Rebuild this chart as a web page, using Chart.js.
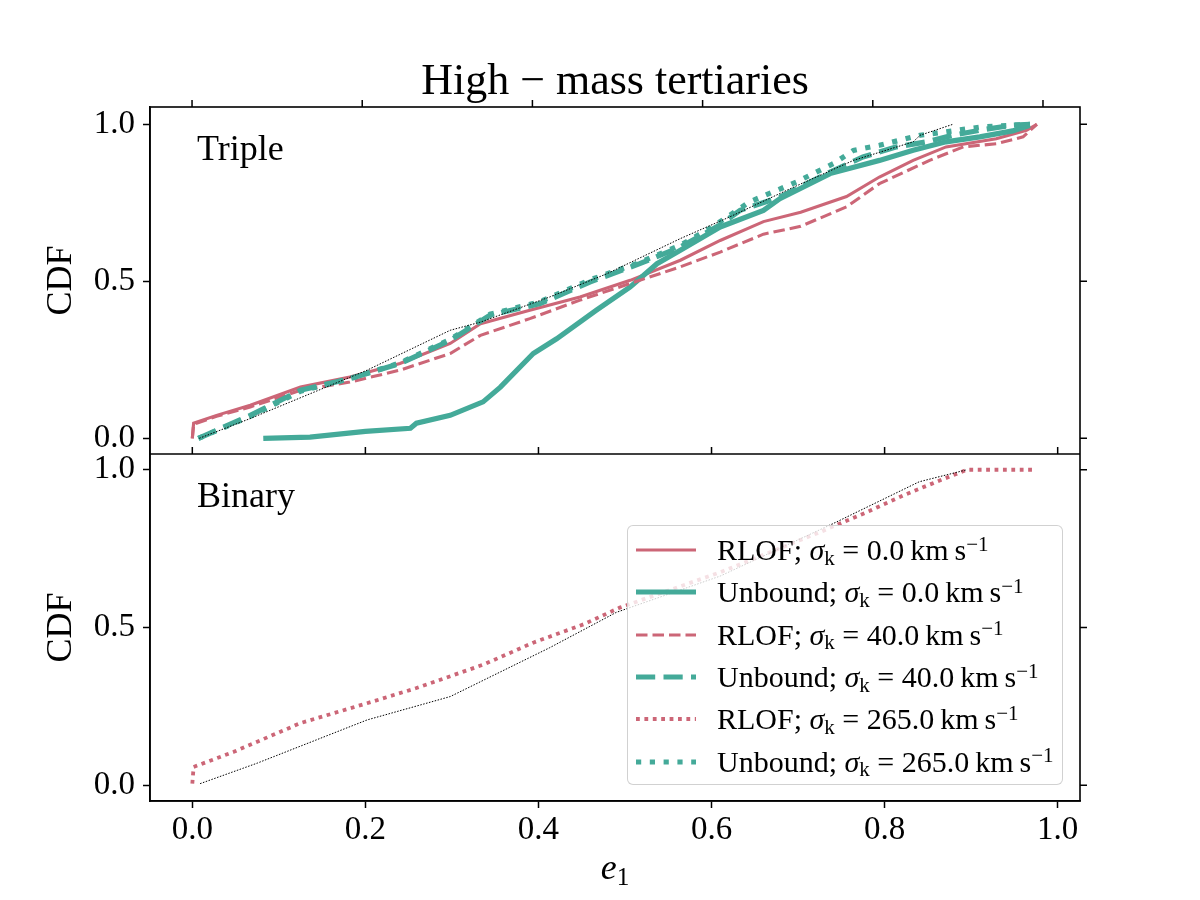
<!DOCTYPE html>
<html lang="en">
<head>
    <meta charset="UTF-8">
    <title>High-mass tertiaries CDF</title>
    <script src="https://cdn.jsdelivr.net/npm/chart.js"></script>
    <style>
        body {
            margin: 0;
            background: #ffffff;
            font-family: 'Liberation Serif', serif;
        }
        #wrap {
            position: relative;
            width: 1200px;
            height: 900px;
        }
        #chart {
            position: absolute;
            left: 0;
            top: 0;
        }
        .txt {
            position: absolute;
            line-height: 1;
            white-space: nowrap;
            color: #000;
        }
        #title {
            left: 150px;
            width: 930px;
            top: 58px;
            font-size: 44px;
            text-align: center;
        }
        #xlabel {
            left: 150px;
            width: 930px;
            top: 849px;
            font-size: 36px;
            text-align: center;
        }
        .panel-label {
            left: 197px;
            font-size: 36px;
        }
        #legend {
            position: absolute;
            left: 627px;
            top: 525px;
            width: 436px;
            height: 260px;
            border: 1.5px solid rgba(204, 204, 204, 0.9);
            border-radius: 6px;
            background: rgba(255, 255, 255, 0.8);
            padding-top: 3px;
            box-sizing: border-box;
        }
        .row {
            display: flex;
            align-items: center;
            height: 42.3px;
            font-size: 30px;
            white-space: nowrap;
        }
        .row svg {
            margin-left: 8px;
            width: 60px;
            height: 12px;
        }
        .row span.t {
            margin-left: 21px;
            line-height: 1;
        }
        .sub {
            font-size: 0.7em;
            position: relative;
            top: 0.22em;
        }
        .sup {
            font-size: 0.7em;
            position: relative;
            top: -0.45em;
        }
    </style>
</head>
<body>
<div id="wrap">
    <canvas id="chart" width="1200" height="900"></canvas>
    <div id="title" class="txt">High − mass tertiaries</div>
    <div class="txt panel-label" style="top:130px">Triple</div>
    <div class="txt panel-label" style="top:477px">Binary</div>
    <div id="xlabel" class="txt"><i>e</i><span class="sub">1</span></div>
    <div id="legend"></div>
</div>
<script>
    // ---- data (x = e1, y = CDF) ----
    // Triple panel
    const tripleRlof0X = [0, 0.0015, 0.028, 0.067, 0.125, 0.182, 0.24, 0.298, 0.333, 0.39, 0.448, 0.506, 0.564, 0.61, 0.66, 0.703, 0.756, 0.794, 0.833, 0.871, 0.929, 0.964, 0.976];
    const tripleRlof0Y = [0, 0.048, 0.073, 0.105, 0.163, 0.195, 0.238, 0.302, 0.365, 0.408, 0.45, 0.503, 0.567, 0.63, 0.69, 0.72, 0.77, 0.832, 0.885, 0.928, 0.954, 0.981, 1.0];

    const tripleRlof40X = [0, 0.0015, 0.028, 0.067, 0.125, 0.182, 0.24, 0.298, 0.333, 0.39, 0.448, 0.506, 0.564, 0.61, 0.66, 0.703, 0.756, 0.794, 0.852, 0.891, 0.929, 0.96, 0.976];
    const tripleRlof40Y = [0, 0.045, 0.07, 0.1, 0.153, 0.179, 0.217, 0.27, 0.328, 0.381, 0.44, 0.493, 0.546, 0.593, 0.65, 0.675, 0.737, 0.811, 0.885, 0.928, 0.938, 0.96, 1.0];

    const tripleUnb0X = [0.082, 0.136, 0.2, 0.252, 0.259, 0.298, 0.336, 0.356, 0.394, 0.421, 0.467, 0.506, 0.537, 0.564, 0.61, 0.66, 0.679, 0.737, 0.794, 0.833, 0.871, 0.91, 0.948, 0.968];
    const tripleUnb0Y = [0, 0.004, 0.022, 0.032, 0.048, 0.073, 0.116, 0.163, 0.27, 0.317, 0.408, 0.482, 0.556, 0.599, 0.673, 0.726, 0.763, 0.843, 0.885, 0.917, 0.944, 0.96, 0.979, 0.997];

    const tripleUnb40X = [0.007, 0.067, 0.125, 0.182, 0.24, 0.298, 0.344, 0.402, 0.46, 0.517, 0.564, 0.61, 0.633, 0.679, 0.737, 0.775, 0.814, 0.848, 0.879, 0.91, 0.948, 0.968];
    const tripleUnb40Y = [0, 0.073, 0.153, 0.19, 0.238, 0.312, 0.392, 0.429, 0.498, 0.556, 0.609, 0.68, 0.726, 0.768, 0.848, 0.896, 0.928, 0.944, 0.965, 0.981, 0.997, 1.0];

    const tripleUnb265X = [0.007, 0.067, 0.125, 0.182, 0.24, 0.298, 0.344, 0.402, 0.46, 0.517, 0.564, 0.601, 0.644, 0.698, 0.741, 0.764, 0.794, 0.81, 0.841, 0.871, 0.91, 0.968];
    const tripleUnb265Y = [0, 0.07, 0.15, 0.19, 0.24, 0.315, 0.395, 0.435, 0.505, 0.56, 0.615, 0.673, 0.753, 0.816, 0.875, 0.917, 0.933, 0.944, 0.965, 0.976, 0.991, 1.0];

    const tripleRefX = [0.008, 0.067, 0.202, 0.298, 0.333, 0.413, 0.479, 0.564, 0.621, 0.691, 0.764, 0.833, 0.841, 0.879];
    const tripleRefY = [0, 0.063, 0.217, 0.344, 0.37, 0.45, 0.524, 0.636, 0.705, 0.795, 0.885, 0.944, 0.965, 1.0];

    // Binary panel
    const binaryRlof265X = [0, 0.0015, 0.048, 0.125, 0.202, 0.259, 0.336, 0.394, 0.452, 0.494, 0.61, 0.725, 0.783, 0.821, 0.86, 0.895, 0.971];
    const binaryRlof265Y = [0.005, 0.058, 0.106, 0.197, 0.26, 0.308, 0.382, 0.452, 0.51, 0.563, 0.675, 0.802, 0.87, 0.918, 0.962, 1.0, 1.0];

    const binaryRefX = [0.009, 0.075, 0.202, 0.298, 0.413, 0.49, 0.61, 0.744, 0.84, 0.895];
    const binaryRefY = [0.005, 0.07, 0.207, 0.281, 0.436, 0.548, 0.663, 0.834, 0.962, 1.0];

    // ticks
    const xTickValues = [0, 0.2, 0.4, 0.6, 0.8, 1.0];
    const yTickValues = [0, 0.5, 1.0];

    // legend entries
    const legendLabels = ['RLOF', 'Unbound', 'RLOF', 'Unbound', 'RLOF', 'Unbound'];
    const legendSigma = ['0.0', '0.0', '40.0', '40.0', '265.0', '265.0'];

    const RED = '#CC6677';
    const TEAL = '#44AA99';
    const FONT = 'Liberation Serif';

    const styles = {
        red0: { color: RED, width: 3.1, dash: [] },
        teal0: { color: TEAL, width: 5.2, dash: [] },
        red40: { color: RED, width: 3.1, dash: [11.5, 5] },
        teal40: { color: TEAL, width: 5.2, dash: [19.2, 8.3] },
        red265: { color: RED, width: 3.8, dash: [3.8, 4.6] },
        teal265: { color: TEAL, width: 5.2, dash: [5.2, 8.6] },
        ref: { color: '#000000', width: 1, dash: [1.5, 1.5] }
    };
    const legendStyles = ['red0', 'teal0', 'red40', 'teal40', 'red265', 'teal265'];

    function pts(xs, ys) {
        return xs.map((x, i) => ({ x: x, y: ys[i] }));
    }

    function ds(label, xs, ys, style, axis) {
        const s = styles[style];
        return {
            label: label,
            data: pts(xs, ys),
            yAxisID: axis,
            borderColor: s.color,
            borderWidth: s.width,
            borderDash: s.dash,
            borderCapStyle: 'butt',
            pointRadius: 0,
            tension: 0,
            fill: false
        };
    }

    // first dataset is drawn on top
    const datasets = [
        ds('ref triple', tripleRefX, tripleRefY, 'ref', 'yTop'),
        ds('ref binary', binaryRefX, binaryRefY, 'ref', 'yBot'),
        ds('Unbound 265', tripleUnb265X, tripleUnb265Y, 'teal265', 'yTop'),
        ds('RLOF 265 binary', binaryRlof265X, binaryRlof265Y, 'red265', 'yBot'),
        ds('Unbound 40', tripleUnb40X, tripleUnb40Y, 'teal40', 'yTop'),
        ds('RLOF 40', tripleRlof40X, tripleRlof40Y, 'red40', 'yTop'),
        ds('Unbound 0', tripleUnb0X, tripleUnb0Y, 'teal0', 'yTop'),
        ds('RLOF 0', tripleRlof0X, tripleRlof0Y, 'red0', 'yTop')
    ];

    function yScale(yMax) {
        return {
            type: 'linear',
            position: 'left',
            stack: 'panels',
            stackWeight: 1,
            min: -0.05,
            max: yMax,
            afterBuildTicks: s => { s.ticks = yTickValues.map(v => ({ value: v })); },
            afterFit: s => { s.width = 150; },
            ticks: {
                color: '#000',
                font: { family: FONT, size: 33 },
                padding: 8,
                callback: v => v.toFixed(1)
            },
            grid: {
                drawOnChartArea: false,
                drawTicks: true,
                tickLength: 7,
                tickColor: '#000',
                tickWidth: 1.5
            },
            border: { display: true, color: '#000', width: 1.6 },
            title: {
                display: true,
                text: 'CDF',
                color: '#000',
                font: { family: FONT, size: 36 },
                padding: { top: 40, bottom: 0 }
            }
        };
    }

    // frame, inner ticks, top/right ticks (matplotlib style)
    const framePlugin = {
        id: 'frame',
        afterDraw(chart) {
            const ctx = chart.ctx;
            const a = chart.chartArea;
            const x = chart.scales.x;
            const xTop = chart.scales.xTop;
            const yTop = chart.scales.yTop;
            const yBot = chart.scales.yBot;
            const mid = yTop.bottom;
            const tl = 7;
            ctx.save();
            ctx.strokeStyle = '#000';
            ctx.lineWidth = 1.6;
            ctx.strokeRect(a.left, a.top, a.right - a.left, a.bottom - a.top);
            ctx.beginPath();
            ctx.moveTo(a.left, mid);
            ctx.lineTo(a.right, mid);
            ctx.stroke();
            ctx.lineWidth = 1.5;
            ctx.beginPath();
            xTickValues.forEach(v => {
                const px = xTop.getPixelForValue(v);
                ctx.moveTo(px, a.top);
                ctx.lineTo(px, a.top - tl);
                const pb = x.getPixelForValue(v);
                ctx.moveTo(pb, mid);
                ctx.lineTo(pb, mid - tl);
            });
            yTickValues.forEach(v => {
                [yTop, yBot].forEach(s => {
                    const py = s.getPixelForValue(v);
                    ctx.moveTo(a.right, py);
                    ctx.lineTo(a.right + tl, py);
                });
            });
            ctx.stroke();
            ctx.restore();
        }
    };

    new Chart(document.getElementById('chart'), {
        type: 'line',
        data: { datasets: datasets },
        options: {
            responsive: false,
            animation: false,
            events: [],
            layout: { padding: { left: 0, right: 120, top: 107, bottom: 0 } },
            plugins: {
                legend: { display: false },
                tooltip: { enabled: false }
            },
            scales: {
                x: {
                    type: 'linear',
                    position: 'bottom',
                    min: -0.0489,
                    max: 1.0258,
                    afterBuildTicks: s => { s.ticks = xTickValues.map(v => ({ value: v })); },
                    afterFit: s => { s.height = 99; },
                    ticks: {
                        color: '#000',
                        font: { family: FONT, size: 33 },
                        padding: 3,
                        maxRotation: 0,
                        callback: v => v.toFixed(1)
                    },
                    grid: {
                        drawOnChartArea: false,
                        drawTicks: true,
                        tickLength: 7,
                        tickColor: '#000',
                        tickWidth: 1.5
                    },
                    border: { display: true, color: '#000', width: 1.6 }
                },
                xTop: {
                    type: 'linear',
                    position: 'top',
                    display: false,
                    min: -0.0494,
                    max: 1.0435
                },
                yBot: yScale(1.05),
                yTop: yScale(1.055)
            }
        },
        plugins: [framePlugin]
    });

    // legend (HTML so the math text stays real text)
    const legend = document.getElementById('legend');
    legendLabels.forEach((lab, i) => {
        const s = styles[legendStyles[i]];
        const row = document.createElement('div');
        row.className = 'row';
        row.innerHTML =
            `<svg viewBox="0 0 60 12"><line x1="0" y1="6" x2="60" y2="6" stroke="${s.color}" stroke-width="${s.width}" stroke-dasharray="${s.dash.join(' ') || 'none'}"/></svg>` +
            `<span class="t">${lab}; <i>σ</i><span class="sub">k</span> = ${legendSigma[i]}&thinsp;km&thinsp;s<span class="sup">−1</span></span>`;
        legend.appendChild(row);
    });
</script>
</body>
</html>
